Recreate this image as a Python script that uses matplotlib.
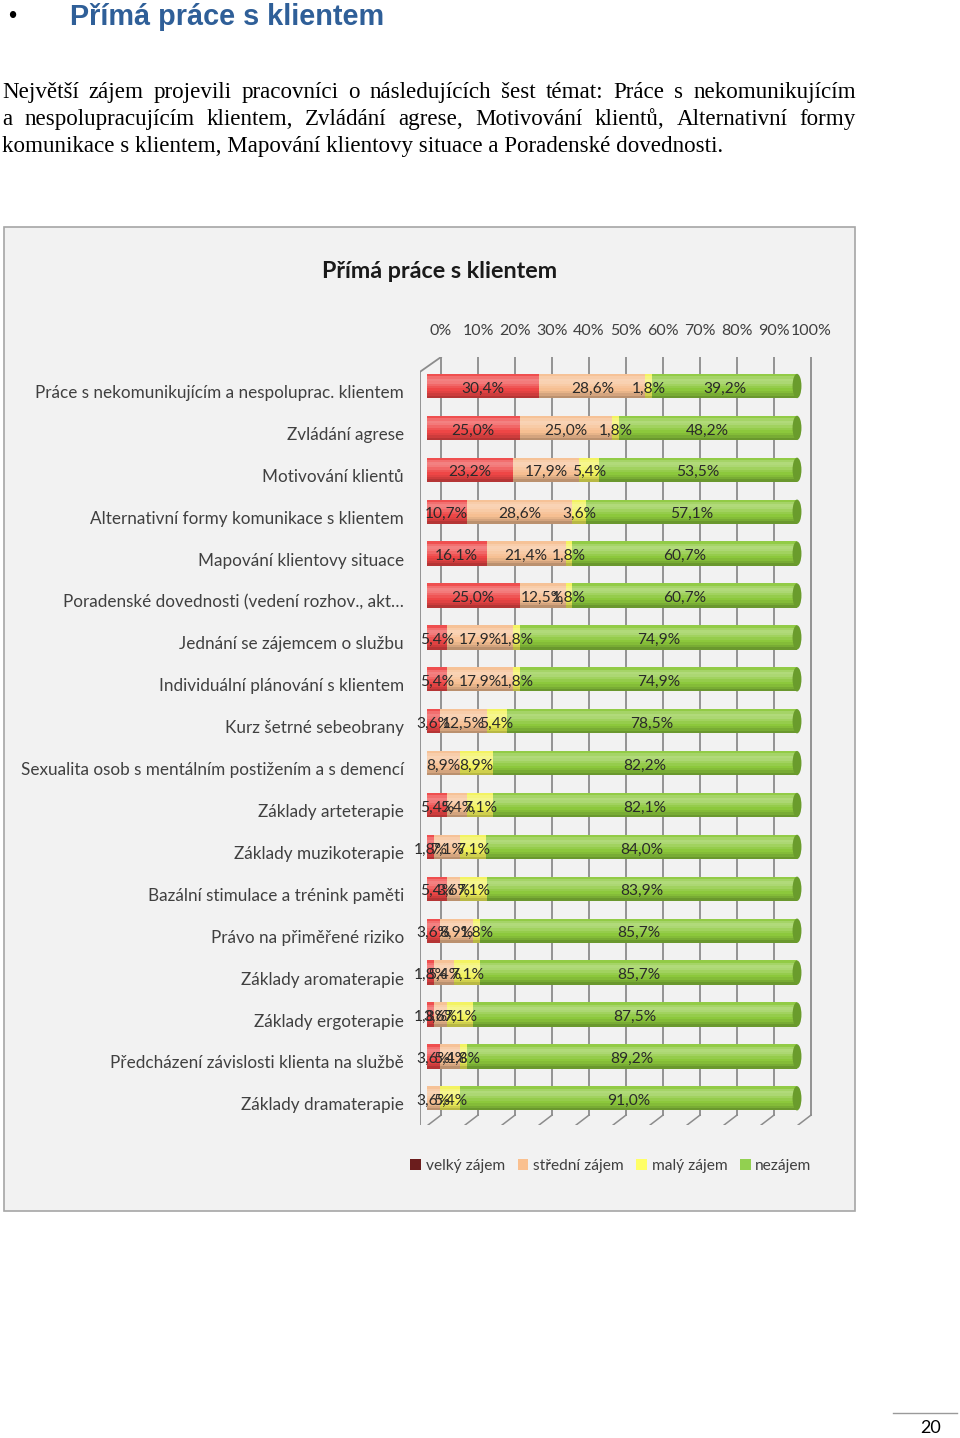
import numpy as np
import matplotlib
matplotlib.use("Agg")
import matplotlib.pyplot as plt
from matplotlib.colors import to_rgb
from matplotlib.patches import Rectangle, Ellipse, Patch

W, H = 960, 1438

categories = [
    "Práce s nekomunikujícím a nespoluprac. klientem",
    "Zvládání agrese",
    "Motivování klientů",
    "Alternativní formy komunikace s klientem",
    "Mapování klientovy situace",
    "Poradenské dovednosti (vedení rozhov., akt…",
    "Jednání se zájemcem o službu",
    "Individuální plánování s klientem",
    "Kurz šetrné sebeobrany",
    "Sexualita osob s mentálním postižením a s demencí",
    "Základy arteterapie",
    "Základy muzikoterapie",
    "Bazální stimulace a trénink paměti",
    "Právo na přiměřené riziko",
    "Základy aromaterapie",
    "Základy ergoterapie",
    "Předcházení závislosti klienta na službě",
    "Základy dramaterapie",
]
velky = [30.4, 25.0, 23.2, 10.7, 16.1, 25.0, 5.4, 5.4, 3.6, 0.0, 5.4, 1.8, 5.4, 3.6, 1.8, 1.8, 3.6, 0.0]
stredni = [28.6, 25.0, 17.9, 28.6, 21.4, 12.5, 17.9, 17.9, 12.5, 8.9, 5.4, 7.1, 3.6, 8.9, 5.4, 3.6, 5.4, 3.6]
maly = [1.8, 1.8, 5.4, 3.6, 1.8, 1.8, 1.8, 1.8, 5.4, 8.9, 7.1, 7.1, 7.1, 1.8, 7.1, 7.1, 1.8, 5.4]
nezajem = [39.2, 48.2, 53.5, 57.1, 60.7, 60.7, 74.9, 74.9, 78.5, 82.2, 82.1, 84.0, 83.9, 85.7, 85.7, 87.5, 89.2, 91.0]
series_names = ["velký zájem", "střední zájem", "malý zájem", "nezájem"]
ticks = list(range(0, 101, 10))

bar_cols = ["#ee4646", "#f6bf92", "#f2f25a", "#8cc83c"]
leg_cols = ["#6b1d1d", "#fac08f", "#ffff66", "#92d050"]
# shading across the cylinder, top -> bottom (+ towards white, - towards black)
shade = [0.05, 0.22, 0.32, 0.28, 0.18, 0.08, 0.0, -0.06, -0.14, -0.24]


def fx(x):
    return x / W


def fy(y):
    return 1 - y / H


def tint(c, k):
    c = np.array(to_rgb(c))
    return tuple(c + (1 - c) * k) if k >= 0 else tuple(c * (1 + k))


fig = plt.figure(figsize=(9.6, 14.38), dpi=100)
fig.patch.set_facecolor("white")

# ---- page text ----
fig.text(fx(8), fy(17), "•", family="Liberation Sans", fontsize=17, va="center", color="black")
fig.text(fx(70), fy(17), "Přímá práce s klientem", family="Liberation Sans", weight="bold",
         fontsize=20.8, va="center", color="#2f5f98")

lines = ["Největší zájem projevili pracovníci o následujících šest témat: Práce s nekomunikujícím",
         "a nespolupracujícím klientem, Zvládání agrese, Motivování klientů, Alternativní formy",
         "komunikace s klientem, Mapování klientovy situace a Poradenské dovednosti."]
baselines = [98, 125, 152]
psize = 16.6
renderer = fig.canvas.get_renderer()
for i, (line, yb) in enumerate(zip(lines, baselines)):
    if i == len(lines) - 1:
        fig.text(fx(2), fy(yb), line, family="Liberation Serif", fontsize=psize, va="baseline")
        continue
    words = line.split(" ")
    txts = [fig.text(0, fy(yb), w, family="Liberation Serif", fontsize=psize, va="baseline") for w in words]
    widths = [t.get_window_extent(renderer).width for t in txts]
    gap = (856 - 2 - sum(widths)) / (len(words) - 1)
    x = 2
    for t, w in zip(txts, widths):
        t.set_x(fx(x))
        x += w + gap

# page number
fig.add_artist(plt.Line2D([fx(893), fx(957)], [fy(1413), fy(1413)], color="#9a9a9a", lw=1))
fig.text(fx(931), fy(1428), "20", family="Lato", fontsize=13, ha="center", va="center")

# ---- chart box ----
box = Rectangle((fx(4), fy(1211)), fx(851), 984 / H, facecolor="#f2f2f2",
                edgecolor="#a6a6a6", lw=1.2, zorder=-5)
fig.add_artist(box)
fig.text(fx(440), fy(271), "Přímá práce s klientem", family="Lato", weight="bold",
         fontsize=16.8, ha="center", va="center", color="#1a1a1a")

# axes: 3.7 px per percent, row pitch 41.9 px
ppu = 3.7
x_lo, x_hi = -2.0, 106.0
y_top_px, y_bot_px = 357, 1125
row0, pitch = 386, 41.9
ax = fig.add_axes([fx(427 + x_lo * ppu), fy(y_bot_px), (x_hi - x_lo) * ppu / W, (y_bot_px - y_top_px) / H])
ax.set_facecolor("none")
ax.set_xlim(x_lo, x_hi)
y_top = (y_top_px - row0) / pitch
y_bot = (y_bot_px - row0) / pitch
ax.set_ylim(y_bot, y_top)
for s in ax.spines.values():
    s.set_visible(False)

depth = 3.8  # back wall offset in percent
back_bot = 17.4
for t in ticks:
    ax.plot([t + depth, t + depth], [y_top, back_bot], color="#8c8c8c", lw=1.3, zorder=1)
    ax.plot([t + depth, t + 0.3], [back_bot, y_bot], color="#8c8c8c", lw=1.1, zorder=1)
ax.plot([x_lo, x_lo], [y_top + 0.36, y_bot], color="#8c8c8c", lw=1.3, zorder=1)
ax.plot([x_lo, depth], [y_top + 0.36, y_top], color="#8c8c8c", lw=1.3, zorder=1)

ax.xaxis.tick_top()
ax.set_xticks([t + depth for t in ticks])
ax.set_xticklabels([f"{t}%" for t in ticks], family="Lato", fontsize=11.5, color="#404040")
ax.tick_params(axis="x", length=0, pad=14)
ax.set_yticks([])

y = np.arange(len(categories))
h = 0.58
n = len(shade)
band = h / n
left = np.zeros(len(categories))
for vals, col in zip([velky, stredni, maly, nezajem], bar_cols):
    vals = np.array(vals)
    for k, s in enumerate(shade):
        yc = y - h / 2 + band * (k + 0.5)
        ax.barh(yc, vals, left=left, height=band * 1.02, color=tint(col, s), zorder=3, lw=0)
    for yi, l, v in zip(y, left, vals):
        if v > 0:
            ax.text(l + v / 2, yi + 0.06, f"{v:.1f}%".replace(".", ","), ha="center", va="center",
                    family="Lato", fontsize=11.2, color="#2a2a2a", zorder=6)
    left = left + vals

# end caps of the cylinders
for yi, tot in zip(y, left):
    ax.add_patch(Ellipse((tot, yi), 2.4, h, facecolor="#6a9c2c", edgecolor="none", zorder=5))

# category labels
for yi, name in zip(y, categories):
    fig.text(fx(404), fy(row0 + pitch * yi + 7), name, family="Lato", fontsize=12.3,
             ha="right", va="center", color="#404040")

handles = [Patch(facecolor=c, edgecolor="none") for c in leg_cols]
fig.legend(handles, series_names, loc="center", bbox_to_anchor=(fx(611), fy(1166)), ncol=4,
           frameon=False, handlelength=0.7, handleheight=0.7, handletextpad=0.3,
           columnspacing=0.8, prop={"family": "Lato", "size": 11.2}, labelcolor="#404040")

fig.savefig("out.png", dpi=100)
